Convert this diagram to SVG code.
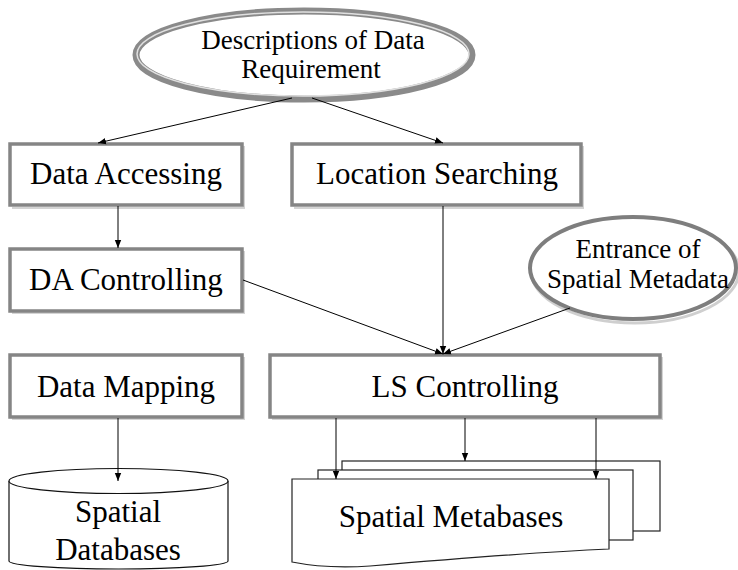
<svg xmlns="http://www.w3.org/2000/svg" width="738" height="570" viewBox="0 0 738 570" font-family="'Liberation Serif', 'DejaVu Serif', serif">
<style>
text{font-family:'Liberation Serif','DejaVu Serif',serif;fill:#000;text-anchor:middle}
.big{font-size:31px}
.sm{font-size:27px}
.box{fill:#fff;stroke:#858585;stroke-width:3.5}
.shadow{fill:none;stroke:#d4d4d4;stroke-width:2}
.ln{fill:none;stroke:#000;stroke-width:1}
.doc{fill:#fff;stroke:#222;stroke-width:1.2}
</style>
<defs>
<marker id="ah" viewBox="0 0 10 10" refX="10" refY="5" markerWidth="8" markerHeight="8" markerUnits="userSpaceOnUse" orient="auto">
<path d="M0,1 L10,5 L0,9 Z" fill="#000"/>
</marker>
</defs>

<g id="descriptions">
<ellipse cx="304" cy="55" rx="168" ry="44" fill="#fff" stroke="#8a8a8a" stroke-width="7"/>
<ellipse cx="303" cy="54" rx="166" ry="42" fill="none" stroke="#e0e0e0" stroke-width="1.5"/>
<text class="sm" x="313" y="49">Descriptions of Data</text>
<text class="sm" x="311" y="78">Requirement</text>
</g>

<g id="data-accessing">
<path class="shadow" d="M244,146 V208 H12"/>
<rect class="box" x="10" y="144" width="232" height="61"/>
<text class="big" x="126" y="184">Data Accessing</text>
</g>

<g id="location-searching">
<path class="shadow" d="M583,146 V208 H294"/>
<rect class="box" x="292" y="144" width="289" height="61"/>
<text class="big" x="437" y="184">Location Searching</text>
</g>

<g id="da-controlling">
<path class="shadow" d="M244,251 V313 H12"/>
<rect class="box" x="10" y="249" width="232" height="62"/>
<text class="big" x="126" y="290">DA Controlling</text>
</g>

<g id="entrance">
<ellipse cx="635" cy="271" rx="104" ry="52" fill="none" stroke="#cfcfcf" stroke-width="3"/>
<ellipse cx="633" cy="268" rx="103" ry="51" fill="#fff" stroke="#7e7e7e" stroke-width="4"/>
<text class="sm" x="638" y="258">Entrance of</text>
<text class="sm" x="638" y="288">Spatial Metadata</text>
</g>

<g id="data-mapping">
<path class="shadow" d="M244,357 V419 H12"/>
<rect class="box" x="10" y="355" width="232" height="62"/>
<text class="big" x="126" y="397">Data Mapping</text>
</g>

<g id="ls-controlling">
<path class="shadow" d="M662,357 V419 H272"/>
<rect class="box" x="270" y="355" width="390" height="62"/>
<text class="big" x="465" y="397">LS Controlling</text>
</g>

<g id="spatial-databases">
<path d="M9,481 V561 A109.5,8 0 0 0 228,561 V481" fill="#fff" stroke="#111" stroke-width="1.2"/>
<ellipse cx="118.5" cy="481" rx="109.5" ry="12.5" fill="#fff" stroke="#111" stroke-width="1.2"/>
<text class="big" x="118" y="522">Spatial</text>
<text class="big" x="118" y="560">Databases</text>
</g>

<g id="spatial-metabases">
<rect class="doc" x="342" y="461" width="318" height="70"/>
<rect class="doc" x="318" y="470" width="315" height="70"/>
<path class="doc" d="M292,479 H609 V549 C540,552 440,560 370,566 C340,568 312,566 292,562 Z"/>
<text class="big" x="451" y="527">Spatial Metabases</text>
</g>

<g id="connectors">
<line class="ln" x1="292" y1="98" x2="98" y2="143" marker-end="url(#ah)"/>
<line class="ln" x1="312" y1="98" x2="443" y2="143" marker-end="url(#ah)"/>
<line class="ln" x1="118" y1="206" x2="118" y2="248" marker-end="url(#ah)"/>
<line class="ln" x1="443" y1="206" x2="443" y2="354" marker-end="url(#ah)"/>
<line class="ln" x1="243" y1="280" x2="443" y2="354" marker-end="url(#ah)"/>
<line class="ln" x1="570" y1="308" x2="443" y2="354" marker-end="url(#ah)"/>
<line class="ln" x1="118" y1="418" x2="118" y2="481" marker-end="url(#ah)"/>
<line class="ln" x1="336" y1="418" x2="336" y2="479" marker-end="url(#ah)"/>
<line class="ln" x1="465" y1="418" x2="465" y2="461" marker-end="url(#ah)"/>
<line class="ln" x1="596" y1="418" x2="596" y2="479" marker-end="url(#ah)"/>
</g>
</svg>
